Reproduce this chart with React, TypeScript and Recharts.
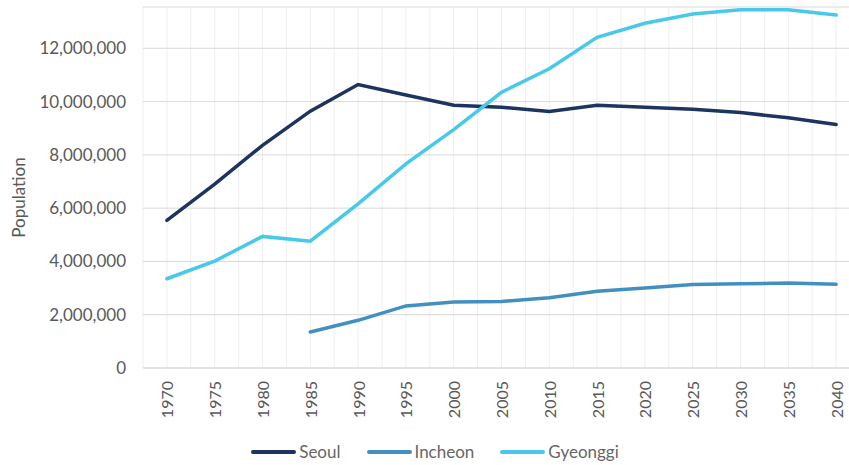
import { LineChart, Line, XAxis, YAxis, CartesianGrid, Legend } from "recharts";

// population by region
const years = ["1970", "1975", "1980", "1985", "1990", "1995", "2000", "2005", "2010", "2015", "2020", "2025", "2030", "2035", "2040"];
const seoul = [5540000, 6900000, 8360000, 9640000, 10640000, 10250000, 9860000, 9790000, 9630000, 9860000, 9790000, 9710000, 9590000, 9390000, 9140000];
const incheon = [null, null, null, 1350000, 1790000, 2330000, 2480000, 2500000, 2640000, 2880000, 3000000, 3130000, 3160000, 3190000, 3140000];
const gyeonggi = [3350000, 4010000, 4940000, 4760000, 6160000, 7660000, 8950000, 10350000, 11230000, 12410000, 12940000, 13290000, 13450000, 13450000, 13250000];
const yTicks = [0, 2000000, 4000000, 6000000, 8000000, 10000000, 12000000];

const series = [
  { key: "seoul", name: "Seoul", color: "#1d3461" },
  { key: "incheon", name: "Incheon", color: "#4290c0" },
  { key: "gyeonggi", name: "Gyeonggi", color: "#48c9e9" },
];

const data = years.map((year, i) => ({
  year,
  seoul: seoul[i],
  incheon: incheon[i],
  gyeonggi: gyeonggi[i],
}));

const FONT = "Lato, 'Open Sans', sans-serif";
const TEXT = "#595959";
const HALF_BAND = 717 / years.length / 2;

function YearTick({ x, y, payload }: any) {
  return (
    <text
      x={x}
      y={y}
      transform={`rotate(-90 ${x} ${y})`}
      textAnchor="end"
      dominantBaseline="central"
      fill={TEXT}
      fontSize={16}
      fontFamily={FONT}
    >
      {payload.value}
    </text>
  );
}

function AxisTitle({ viewBox }: any) {
  const x = viewBox.x + 18;
  const y = viewBox.y + viewBox.height / 2 + 10;
  return (
    <text x={x} y={y} transform={`rotate(-90 ${x} ${y})`} textAnchor="middle" dominantBaseline="central" fill={TEXT} fontSize={17} fontFamily={FONT}>
      Population
    </text>
  );
}

function LegendBox() {
  return (
    <div style={{ display: "flex", justifyContent: "center", gap: 26, fontFamily: FONT, fontSize: 17, color: "#666" }}>
      {series.map((s) => (
        <div key={s.key} style={{ display: "flex", alignItems: "center", gap: 3 }}>
          <span style={{ display: "inline-block", width: 45, height: 4, borderRadius: 2, background: s.color }} />
          <span>{s.name}</span>
        </div>
      ))}
    </div>
  );
}

export default function App() {
  return (
    <div style={{ position: "fixed", left: 0, top: 0, width: 849, height: 465, overflow: "hidden", background: "#fff" }}>
      <LineChart width={870} height={465} data={data} margin={{ top: 7, right: 10, bottom: 37, left: 0 }}>
        <CartesianGrid
          horizontal={false}
          stroke="#eeeeee"
          verticalCoordinatesGenerator={({ offset }: any) =>
            Array.from({ length: years.length * 2 + 1 }, (_, i) => offset.left + (i * offset.width) / (years.length * 2))
          }
        />
        <CartesianGrid vertical={false} stroke="#d9d9d9" />
        <XAxis
          dataKey="year"
          interval={0}
          height={60}
          padding={{ left: HALF_BAND, right: HALF_BAND }}
          tickLine={false}
          tickSize={0}
          tickMargin={13}
          axisLine={{ stroke: "#d9d9d9" }}
          tick={<YearTick />}
        />
        <YAxis
          width={143}
          domain={[0, 13550000]}
          ticks={yTicks}
          axisLine={false}
          tickLine={false}
          tickSize={0}
          tickMargin={17}
          tick={{ fill: TEXT, fontSize: 17, fontFamily: FONT }}
          tickFormatter={(v: number) => v.toLocaleString("en-US")}
          label={<AxisTitle />}
        />
        <Legend
          layout="horizontal"
          align="center"
          verticalAlign="middle"
          wrapperStyle={{ top: 441, left: 0, width: 870 }}
          content={<LegendBox />}
        />
        {series.map((s) => (
          <Line
            key={s.key}
            type="linear"
            dataKey={s.key}
            name={s.name}
            stroke={s.color}
            strokeWidth={3.5}
            strokeLinecap="round"
            dot={false}
            isAnimationActive={false}
          />
        ))}
      </LineChart>
    </div>
  );
}
